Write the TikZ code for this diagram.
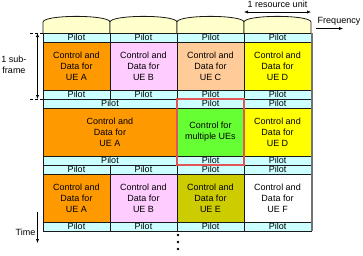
\documentclass[tikz,border=0pt]{standalone}
\usepackage{fontspec}
\setmainfont{Liberation Sans}
\usetikzlibrary{arrows.meta}

\definecolor{pilotcyan}{HTML}{CCFFFF}
\definecolor{arcyellow}{HTML}{FFFFCC}
\definecolor{ueorange}{HTML}{FF9900}
\definecolor{uepink}{HTML}{FFCCFF}
\definecolor{uepeach}{HTML}{FFCC99}
\definecolor{ueyellow}{HTML}{FFFF00}
\definecolor{uegreen}{HTML}{66FF33}
\definecolor{ueolive}{HTML}{CCCC00}
\definecolor{redline}{HTML}{E05555}

\begin{document}
\begin{tikzpicture}[x=1pt, y=-1pt,
    >={Latex[length=4pt,width=3.2pt]},
    every node/.style={font=\fontsize{9}{10.8}\selectfont},
    box/.style={draw=black!90, line width=0.8pt, anchor=north west, inner sep=0pt,
        outer sep=0pt, align=center, minimum width=67pt},
    pilot/.style={box, fill=pilotcyan, minimum height=9pt},
    ue/.style={box, minimum height=48pt}]
        \useasboundingbox (0,0) rectangle (363,255);

        % Rounded tops of the resource units
        \foreach \x in {43,110,177,244}
            \draw[fill=arcyellow, line width=0.8pt, draw=black!90] (\x,33) -- (\x,22)
                .. controls (\x+1,14.5) and (\x+66,14.5) .. (\x+67,22) -- (\x+67,33);

        % Sub-frame 1
        \node[ue, fill=ueorange] (a1) at (43,42) {Control and\\Data for\\UE A};
        \node[ue, fill=uepink] (b1) at (110,42) {Control and\\Data for\\UE B};
        \node[ue, fill=uepeach] (c1) at (177,42) {Control and\\Data for\\UE C};
        \node[ue, fill=ueyellow] (d1) at (244,42) {Control and\\Data for\\UE D};

        % Sub-frame 2
        \node[ue, fill=ueorange, minimum width=134pt] (a2) at (43,108) {Control and\\Data for\\UE A};
        \node[ue, fill=uegreen] (g2) at (177,108) {Control for\\multiple UEs};
        \node[ue, fill=ueyellow] (d2) at (244,108) {Control and\\Data for\\UE D};

        % Sub-frame 3
        \node[ue, fill=ueorange] (a3) at (43,174) {Control and\\Data for\\UE A};
        \node[ue, fill=uepink] (b3) at (110,174) {Control and\\Data for\\UE B};
        \node[ue, fill=ueolive] (e3) at (177,174) {Control and\\Data for\\UE E};
        \node[ue, fill=white] (f3) at (244,174) {Control and\\Data for\\UE F};

        % Pilots
        \foreach \y in {33,90,165,222}
            \foreach \x in {43,110,177,244}
                \node[pilot] (p\x-\y) at (\x,\y) {Pilot};
        \foreach \y in {99,156} {
            \node[pilot, minimum width=134pt] (pa-\y) at (43,\y) {Pilot};
            \node[pilot] (pc-\y) at (177,\y) {Pilot};
            \node[pilot] (pd-\y) at (244,\y) {Pilot};
        }

        % Shared control unit
        \draw[redline, line width=1.1pt] (pc-99.north west) rectangle (pc-156.south east);

        % Right edge shadow
        \draw[black!55, line width=1.6pt] ([xshift=0.9pt]p244-33.north east) -- ([xshift=0.9pt]p244-222.south east);

        % Sub-frame length
        \node[align=center] (sub) at (14,65) {1 sub-\\frame};
        \draw[densely dashed, line width=0.5pt] ([xshift=-13pt]p43-33.north west) -- (p43-33.north west);
        \draw[densely dashed, line width=0.5pt] ([xshift=-13pt]p43-90.south west) -- (p43-90.south west);
        \draw[<->, line width=0.6pt] ([xshift=-5.5pt]p43-33.north west) -- ([xshift=-5.5pt]p43-90.south west);

        % Resource unit width
        \node (res) at (277.5,4.5) {1 resource unit};
        \draw[<->, line width=0.6pt] ([yshift=21pt]p244-33.north west) -- ([yshift=21pt]p244-33.north east);

        % Frequency and time axes
        \node (freq) at (339,21) {Frequency};
        \coordinate (f0) at (316,28.5);
        \coordinate (f1) at (343,28.5);
        \draw[->, line width=0.6pt] (f0) -- (f1);
        \node (time) at (25.5,232) {Time};
        \coordinate (t0) at (37.5,212);
        \coordinate (t1) at (37.5,243);
        \draw[->, line width=0.6pt] (t0) -- (t1);

        % More sub-frames
        \foreach \y in {235,242,249}
            \fill (178,\y) circle (1.3pt);
    \end{tikzpicture}
\end{document}
